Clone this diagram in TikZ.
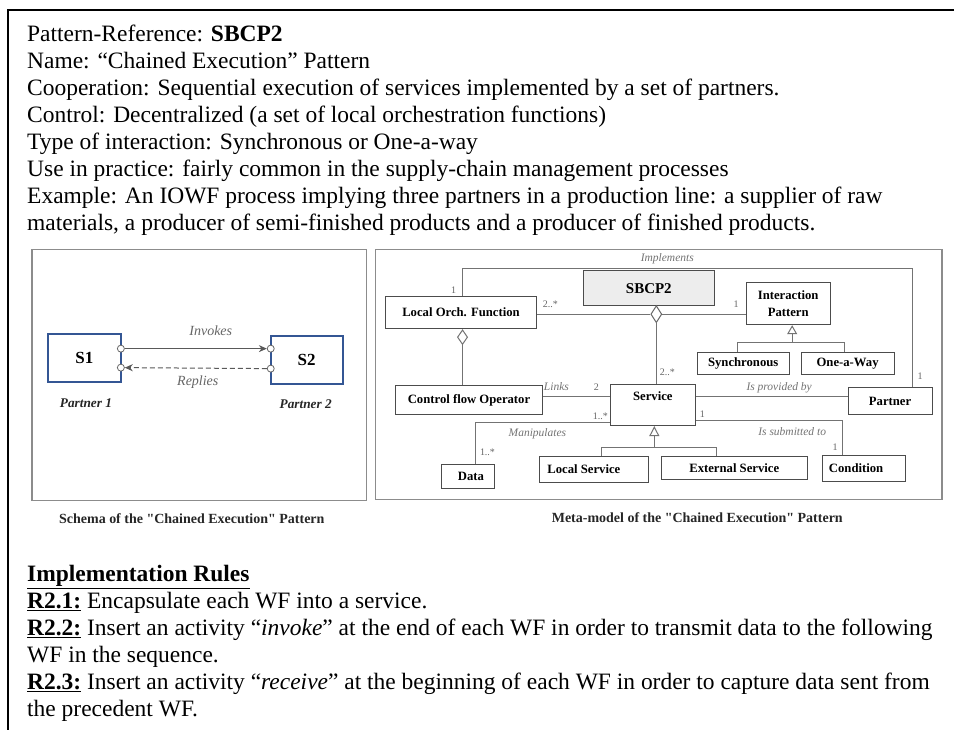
\documentclass[tikz,border=0pt]{standalone}
\usepackage{fontspec}
\setmainfont{Liberation Serif}
\usetikzlibrary{arrows.meta,shapes.geometric}
\definecolor{svcblue}{RGB}{52,86,148}
\begin{document}
\begin{tikzpicture}[x=1pt,y=-1pt,
  txt/.style={anchor=base west,inner sep=0pt,font=\fontsize{23.5}{27}\selectfont},
  panel/.style={draw=black!45,line width=1.4pt},
  umlbox/.style={draw=black!70,line width=1pt,fill=white,inner sep=0pt,align=center,font=\fontsize{12.7}{16.5}\selectfont\bfseries},
  link/.style={draw=black!55,line width=1pt},
  mult/.style={inner sep=0pt,font=\fontsize{10}{11}\selectfont,text=black!60},
  role/.style={inner sep=0pt,font=\fontsize{11.5}{13}\selectfont\itshape,text=black!55},
  capt/.style={inner sep=0pt,font=\fontsize{14}{16}\selectfont\bfseries,text=black!85},
  port/.style={circle,draw=black!60,fill=white,line width=0.8pt,inner sep=0pt,minimum size=7pt},
  sbox/.style={draw=svcblue,line width=1.8pt,fill=white,inner sep=0pt,font=\fontsize{17}{19}\selectfont\bfseries},
  plabel/.style={inner sep=0pt,font=\fontsize{13.3}{15}\selectfont\bfseries\itshape,text=black!85},
  slabel/.style={inner sep=0pt,font=\fontsize{14}{16}\selectfont\itshape,text=black!60},
  sarrow/.style={draw=black!65,line width=1pt,-{Stealth[length=8pt,width=7pt]}}
]
\path[fill=white] (0,0) rectangle (955,731);
% outer frame
\draw[line width=2pt] (955,10) -- (8,10) -- (8,731);

% header text
\node[txt] (t1) at (27,41.5) {Pattern-Reference: \textbf{SBCP2}};
\node[txt] (t2) at (27,68.5) {Name: “Chained Execution” Pattern};
\node[txt] (t3) at (27,95.5) {Cooperation: Sequential execution of services implemented by a set of partners.};
\node[txt] (t4) at (27,122.5) {Control: Decentralized (a set of local orchestration functions)};
\node[txt] (t5) at (27,149.5) {Type of interaction: Synchronous or One-a-way};
\node[txt] (t6) at (27,176.5) {Use in practice: fairly common in the supply-chain management processes};
\node[txt] (t7) at (27,203.5) {Example: An IOWF process implying three partners in a production line: a supplier of raw};
\node[txt] (t8) at (27,230.5) {materials, a producer of semi-finished products and a producer of finished products.};

% panels
\draw[panel] (32,250) rectangle (367,501);
\draw[panel] (376,250) rectangle (943,500);

% ---------- schema ----------
\node[sbox,minimum width=73pt,minimum height=48pt] (s1) at (84.5,358) {S1};
\node[sbox,minimum width=72pt,minimum height=48pt] (s2) at (307,360) {S2};
\node[port] (p1a) at (121,349) {};
\node[port] (p1b) at (121,368) {};
\node[port] (p2a) at (271,349) {};
\node[port] (p2b) at (271,369) {};
\draw[sarrow] (p1a) -- (p2a);
\draw[sarrow,dashed,dash pattern=on 5pt off 3pt] (p2b) -- (p1b);
\node[slabel] (linv) at (211,331) {Invokes};
\node[slabel] (lrep) at (198,383) {Replies};
\node[plabel] (lp1) at (86,404) {Partner 1};
\node[plabel] (lp2) at (306,405) {Partner 2};
\node[capt] (c1) at (192,519) {Schema of the \textquotedbl Chained Execution\textquotedbl{} Pattern};

% ---------- meta-model ----------
\node[umlbox,minimum width=151pt,minimum height=32pt] (lof) at (461.5,313) {Local Orch. Function};
\node[umlbox,fill=black!7,minimum width=131pt,minimum height=35pt,font=\fontsize{15}{17}\selectfont\bfseries] (sbcp) at (649.5,288.5) {SBCP2};
\node[umlbox,minimum width=84pt,minimum height=42pt] (ip) at (789,304) {Interaction\\Pattern};
\node[umlbox,minimum width=92pt,minimum height=22pt] (syn) at (744,364) {Synchronous};
\node[umlbox,minimum width=93pt,minimum height=22pt] (owy) at (848.5,364) {One-a-Way};
\node[umlbox,minimum width=147pt,minimum height=29pt] (cfo) at (469.5,400.5) {Control flow Operator};
\node[umlbox,minimum width=85pt,minimum height=41pt] (svc) at (653.5,405.5) {Service\\[2pt]~};
\node[umlbox,minimum width=84pt,minimum height=27pt] (pt) at (891,401.5) {Partner};
\node[umlbox,minimum width=53pt,minimum height=24pt] (data) at (468.5,477) {\hspace*{6pt}Data};
\node[umlbox,minimum width=109pt,minimum height=26pt] (ls) at (594.5,470) {Local Service\hspace*{20pt}};
\node[umlbox,minimum width=146pt,minimum height=23pt] (es) at (735,468.5) {External Service};
\node[umlbox,minimum width=83pt,minimum height=26pt] (cond) at (864.5,469) {Condition\hspace*{15pt}};

% aggregation diamond of SBCP2
\node[diamond,draw=black!60,fill=white,line width=1pt,inner sep=0pt,minimum width=11pt,minimum height=17pt] (sdia) at (657,314.5) {};
\draw[link] (lof.east |- sdia.west) -- (sdia.west);
\draw[link] (sdia.east) -- (sdia.east -| ip.west);
\draw[link] (sdia.south) -- (sdia.south |- svc.north);

% Local Orch. -> Control flow aggregation
\draw[link,-{Diamond[open,length=16pt,width=11pt]}] (cfo.north -| 463,0) -- (lof.south -| 463,0);

% Implements
\coordinate (ia) at (463,269);
\coordinate (ib) at (913,269);
\draw[link] (lof.north -| ia) -- (ia) -- (ib) -- (pt.north -| ib);

% Links / provided by
\coordinate (lk) at (0,397);
\draw[link] (cfo.east |- lk) -- (svc.west |- lk);
\draw[link] (svc.east |- lk) -- (pt.west |- lk);

% Manipulates
\coordinate (dm) at (476,423);
\draw[link] (svc.west |- dm) -- (dm) -- (data.north -| dm);

% Is submitted to
\coordinate (cm) at (843,421);
\draw[link] (svc.east |- cm) -- (cm) -- (cond.north -| cm);

% Service generalization
\coordinate (gl) at (602,448);
\coordinate (gm) at (655,448);
\coordinate (gr) at (717,448);
\draw[link] (ls.north -| gl) -- (gl) -- (gr) -- (es.north -| gr);
\draw[link,-{Triangle[open,length=10pt,width=10pt]}] (gm) -- (svc.south -| gm);

% Interaction pattern generalization
\coordinate (hl) at (738,343);
\coordinate (hm) at (793,343);
\coordinate (hr) at (845,343);
\draw[link] (syn.north -| hl) -- (hl) -- (hr) -- (owy.north -| hr);
\draw[link,-{Triangle[open,length=9pt,width=10pt]}] (hm) -- (ip.south -| hm);

% multiplicities and roles
\node[role] (rimp) at (668,259) {Implements};
\node[mult] (m1) at (454,290) {1};
\node[mult] (m2) at (551,305) {2..*};
\node[mult] (m3) at (737,305) {1};
\node[mult] (m4) at (668,373) {2..*};
\node[role] (rlnk) at (557,387) {Links};
\node[mult] (m5) at (597,388) {2};
\node[role] (rprov) at (780,388) {Is provided by};
\node[mult] (m6) at (921,377) {1};
\node[mult] (m7) at (601,417) {1..*};
\node[role] (rman) at (538,434) {Manipulates};
\node[mult] (m8) at (488,453) {1..*};
\node[mult] (m9) at (703,415) {1};
\node[role] (rsub) at (793,432) {Is submitted to};
\node[mult] (m10) at (836,448) {1};
\node[capt] (c2) at (698,518) {Meta-model of the \textquotedbl Chained Execution\textquotedbl{} Pattern};

% implementation rules
\node[txt] (b1) at (27,582) {\textbf{\underline{Implementation Rules}}};
\node[txt] (b2) at (27,609) {\textbf{\underline{R2.1:}} Encapsulate each WF into a service.};
\node[txt] (b3) at (27,636) {\textbf{\underline{R2.2:}} Insert an activity “\textit{invoke}” at the end of each WF in order to transmit data to the following};
\node[txt] (b4) at (27,663) {WF in the sequence.};
\node[txt] (b5) at (27,690) {\textbf{\underline{R2.3:}} Insert an activity “\textit{receive}” at the beginning of each WF in order to capture data sent from};
\node[txt] (b6) at (27,717) {the precedent WF.};
\end{tikzpicture}
\end{document}
